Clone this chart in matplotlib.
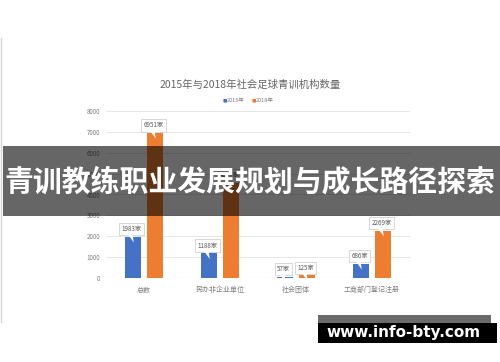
import numpy as np
import matplotlib
matplotlib.use("Agg")
import matplotlib.pyplot as plt
from matplotlib.patches import Rectangle, Polygon
from matplotlib.lines import Line2D

plt.rcParams['font.family'] = ['Noto Sans CJK SC', 'DejaVu Sans']

# data
categories = ['总数', '民办非企业单位', '社会团体', '工商部门登记注册']
vals_2015 = [1983, 1188, 57, 686]
vals_2018 = [6951, 4557, 125, 2269]
series_names = ['2015年', '2018年']
yticks = [0, 1000, 2000, 3000, 4000, 5000, 6000, 7000, 8000]
chart_title = '2015年与2018年社会足球青训机构数量'
banner_text = '青训教练职业发展规划与成长路径探索'
watermark = 'www.info-bty.com'

blue = '#4472C4'
orange = '#ED7D31'
txt_gray = '#7f7f7f'

fig = plt.figure(figsize=(5.0, 3.62), dpi=100)
W, H = 500.0, 362.0

def fx(px):
    return px / W

def fy(py):
    return 1 - py / H

ax = fig.add_axes([fx(106), fy(278), fx(410) - fx(106), fy(111) - fy(278)])

x = np.arange(len(categories))
off = 0.145
bw = 0.22
ax.bar(x - off, vals_2015, bw, color=blue, zorder=2)
ax.bar(x + off, vals_2018, bw, color=orange, zorder=2)

ax.set_xlim(-0.5, len(categories) - 0.5)
ax.set_ylim(0, 8000)
ax.set_yticks(yticks)
ax.set_yticklabels([str(t) for t in yticks], fontsize=4.5, color=txt_gray)
ax.set_xticks(x)
ax.set_xticklabels(categories, fontsize=5, color=txt_gray)
ax.tick_params(length=0, pad=4)
ax.tick_params(axis='x', pad=6)
for s in ax.spines.values():
    s.set_visible(False)
ax.grid(axis='y', color='#e3e3e3', lw=0.6, zorder=0)
ax.axhline(0, color='#d0d0d0', lw=0.8, zorder=1)

# callout labels
def callout(xc, v):
    gap = 170
    ax.text(xc - 0.02, v + gap, f'{v}家', ha='center', va='bottom', fontsize=4.5,
            color='#595959', zorder=5,
            bbox=dict(boxstyle='square,pad=0.35', fc='white', ec='#c8c8c8', lw=0.5))
    tail = Polygon([(xc - 0.09, v + gap + 60), (xc - 0.01, v + gap + 60), (xc + 0.01, v - 280)],
                   closed=True, fc='white', ec='none', zorder=6)
    ax.add_patch(tail)

for i in range(len(categories)):
    callout(x[i] - off, vals_2015[i])
    callout(x[i] + off, vals_2018[i])

# title and legend
fig.text(0.5, fy(85), chart_title, ha='center', va='center', fontsize=7.5, color='#666666')
fig.text(fx(227), fy(101), '■', ha='right', va='center', fontsize=3.2, color=blue)
fig.text(fx(227), fy(101), series_names[0], ha='left', va='center', fontsize=4, color=txt_gray)
fig.text(fx(256), fy(101), '■', ha='right', va='center', fontsize=3.2, color=orange)
fig.text(fx(256), fy(101), series_names[1], ha='left', va='center', fontsize=4, color=txt_gray)

# left border line
fig.add_artist(Line2D([fx(1), fx(1)], [fy(322), fy(38)], color='#d6d6d6', lw=1.0))

# banner overlay
fig.add_artist(Rectangle((fx(3), fy(216)), 1 - fx(3), fy(146) - fy(216),
                         transform=fig.transFigure, fc='black', alpha=0.6, ec='none', zorder=10))
fig.text(0.5, fy(181), banner_text, ha='center', va='center', fontsize=20.8,
         fontweight='bold', color='white', zorder=11)

# watermark
fig.add_artist(Rectangle((fx(318), fy(323)), fx(491) - fx(318), fy(315) - fy(323),
                         transform=fig.transFigure, fc='#6b6b6b', ec='none', zorder=10))
fig.add_artist(Rectangle((fx(318), fy(343)), fx(497) - fx(318), fy(323) - fy(343),
                         transform=fig.transFigure, fc='black', ec='none', zorder=10))
fig.text(fx(404), fy(333), watermark, ha='center', va='center', fontsize=11,
         fontweight='bold', color='white', family='DejaVu Sans', zorder=11)

fig.savefig('out.png', dpi=100, facecolor='white')
